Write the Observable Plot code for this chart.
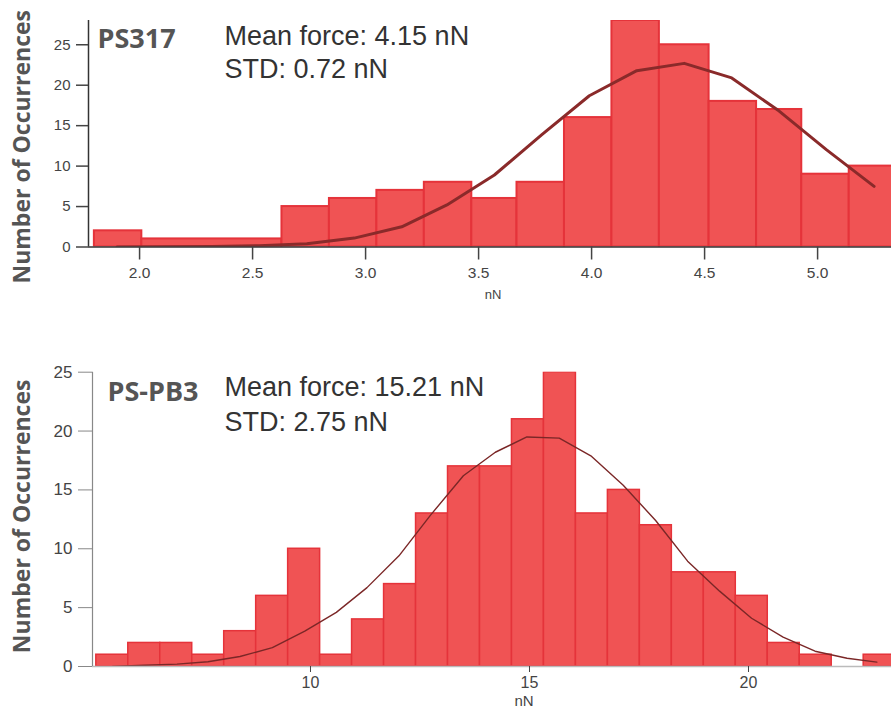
<!DOCTYPE html>
<html><head><meta charset="utf-8">
<script src="https://cdn.jsdelivr.net/npm/d3@7"></script>
<script src="https://cdn.jsdelivr.net/npm/@observablehq/plot@0.6"></script>
<style>
html,body{margin:0;padding:0;background:#fff;}
#wrap{position:relative;width:891px;height:711px;overflow:hidden;font-family:"Liberation Sans",Arial,sans-serif;}
#topPanel{position:absolute;left:0;top:0;}
#botPanel{position:absolute;left:0;top:355px;}
</style></head><body>
<div id="wrap"><div id="topPanel"></div><div id="botPanel"></div></div>
<script>
// ---------- PS317 (top panel) ----------
const ps317BinStart = [1.80, 2.01, 2.63, 2.84, 3.05, 3.26, 3.47, 3.67, 3.88, 4.09, 4.30, 4.52, 4.73, 4.93, 5.14];
const ps317BinEnd   = [2.01, 2.63, 2.84, 3.05, 3.26, 3.47, 3.67, 3.88, 4.09, 4.30, 4.52, 4.73, 4.93, 5.14, 5.35];
const ps317Counts   = [2, 1, 5, 6, 7, 8, 6, 8, 16, 28, 25, 18, 17, 9, 10];
const ps317FitX = [1.90, 2.11, 2.32, 2.53, 2.74, 2.95, 3.16, 3.36, 3.57, 3.78, 3.99, 4.20, 4.41, 4.62, 4.83, 5.04, 5.25];
const ps317FitY = [0, 0.02, 0.06, 0.17, 0.4, 1.1, 2.5, 5.2, 8.9, 13.9, 18.7, 21.8, 22.7, 20.9, 16.8, 12.0, 7.5];
const ps317XTicks = [2.0, 2.5, 3.0, 3.5, 4.0, 4.5, 5.0];
const ps317YTicks = [0, 5, 10, 15, 20, 25];
const ps317Labels = ["PS317", "Mean force: 4.15 nN", "STD: 0.72 nN"];

// ---------- PS-PB3 (bottom panel) ----------
const pb3BinEdges = [5.11, 5.84, 6.57, 7.30, 8.03, 8.76, 9.49, 10.22, 10.95, 11.68, 12.41, 13.14, 13.87,
                     14.60, 15.33, 16.06, 16.79, 17.52, 18.25, 18.98, 19.71, 20.44, 21.17, 21.90, 22.63, 23.36];
const pb3Counts = [1, 2, 2, 1, 3, 6, 10, 1, 4, 7, 13, 17, 17, 21, 25, 13, 15, 12, 8, 8, 6, 2, 1, 0, 1];
const pb3FitX = [5.48, 6.21, 6.95, 7.66, 8.39, 9.13, 9.87, 10.59, 11.29, 12.02, 12.75, 13.49, 14.22,
                 14.94, 15.68, 16.40, 17.14, 17.88, 18.61, 19.34, 20.07, 20.79, 21.52, 22.25, 22.93];
const pb3FitY = [0, 0.1, 0.2, 0.4, 0.85, 1.6, 3.0, 4.6, 6.7, 9.4, 12.9, 16.2, 18.2,
                 19.5, 19.4, 17.9, 15.4, 12.4, 8.95, 6.4, 4.1, 2.5, 1.3, 0.7, 0.37];
const pb3XTicks = [10, 15, 20];
const pb3YTicks = [0, 5, 10, 15, 20, 25];
const pb3Labels = ["PS-PB3", "Mean force: 15.21 nN", "STD: 2.75 nN"];

const axisTitleY = "Number of Occurrences";
const axisTitleX = "nN";

const barFill = "#f05354", barStroke = "#e5333a";

// table builders
const ps317Bins = ps317Counts.map((c, i) => ({x1: ps317BinStart[i], x2: ps317BinEnd[i], n: c}));
const ps317Fit = ps317FitX.map((x, i) => ({x, y: ps317FitY[i]}));
const pb3Bins = pb3Counts.map((c, i) => ({x1: pb3BinEdges[i], x2: pb3BinEdges[i + 1], n: c}));
const pb3Fit = pb3FitX.map((x, i) => ({x, y: pb3FitY[i]}));

const sansFam = '"Liberation Sans", Arial, sans-serif';
const boldFam = '"Open Sans", sans-serif';

// ---------- top ----------
const xTopDomain = [1.774, 5.327];
const topChart = Plot.plot({
  width: 891, height: 310,
  marginLeft: 88, marginRight: 0, marginTop: 20, marginBottom: 63.5,
  style: {fontFamily: sansFam, color: "#444", background: "#fff", overflow: "hidden"},
  x: {domain: xTopDomain},
  y: {domain: [0, 28]},
  marks: [
    Plot.rect(ps317Bins, {x1: "x1", x2: "x2", y1: () => 0, y2: "n", fill: barFill, stroke: barStroke, strokeWidth: 2, clip: true}),
    Plot.line(ps317Fit, {x: "x", y: "y", stroke: "#8a2a2a", strokeWidth: 3, clip: true}),
    Plot.ruleY([0], {stroke: "#333", strokeWidth: 1.5}),
    Plot.ruleX([xTopDomain[0]], {y1: 0, y2: 28, stroke: "#333", strokeWidth: 1.5}),
    Plot.axisY({ticks: ps317YTicks, tickSize: 12, tickPadding: 6, fontSize: 15, label: null, color: "#444", strokeWidth: 1.5}),
    Plot.axisX({ticks: ps317XTicks, tickFormat: d3.format(".1f"), tickSize: 13, tickPadding: 7, fontSize: 15.5, label: null, color: "#444", strokeWidth: 1.5}),
    Plot.text([axisTitleX], {text: d => d, frameAnchor: "bottom", dx: 3, dy: 52, fontSize: 13, fill: "#444"}),
    Plot.text([axisTitleY], {text: d => d, frameAnchor: "left", textAnchor: "middle", rotate: -90, dx: -65.5, dy: 13, fontSize: 23, fontWeight: "bold", fontFamily: boldFam, fill: "#555"}),
    Plot.text([ps317Labels[0]], {text: d => d, frameAnchor: "top-left", textAnchor: "start", lineAnchor: "bottom", dx: 9, dy: 27, fontSize: 27, fontWeight: "bold", fontFamily: boldFam, fill: "#555"}),
    Plot.text([ps317Labels[1]], {text: d => d, frameAnchor: "top-left", textAnchor: "start", lineAnchor: "bottom", dx: 136, dy: 24, fontSize: 27, fill: "#333"}),
    Plot.text([ps317Labels[2]], {text: d => d, frameAnchor: "top-left", textAnchor: "start", lineAnchor: "bottom", dx: 136, dy: 57, fontSize: 27, fill: "#333"})
  ]
});
document.getElementById("topPanel").appendChild(topChart);

// ---------- bottom ----------
const xBotDomain = [5.023, 23.265];
const botChart = Plot.plot({
  width: 891, height: 356,
  marginLeft: 92, marginRight: 0, marginTop: 16.7, marginBottom: 45,
  style: {fontFamily: sansFam, color: "#444", background: "#fff", overflow: "hidden"},
  x: {domain: xBotDomain},
  y: {domain: [0, 25]},
  marks: [
    Plot.rect(pb3Bins, {x1: "x1", x2: "x2", y1: () => 0, y2: "n", fill: barFill, stroke: barStroke, strokeWidth: 1.5, clip: true}),
    Plot.line(pb3Fit, {x: "x", y: "y", stroke: "#7b2727", strokeWidth: 1.4, clip: true}),
    Plot.ruleY([0], {stroke: "#bbb", strokeWidth: 1.5}),
    Plot.ruleX([xBotDomain[0]], {y1: 0, y2: 25, stroke: "#888", strokeWidth: 1.2}),
    Plot.axisY({ticks: pb3YTicks, tickSize: 14, tickPadding: 6, fontSize: 17, label: null, color: "#444", stroke: "#888"}),
    Plot.axisX({ticks: pb3XTicks, tickSize: 6, tickPadding: 4, fontSize: 16, label: null, color: "#444"}),
    Plot.text([axisTitleX], {text: d => d, frameAnchor: "bottom", dx: 32, dy: 39, fontSize: 15, fill: "#444"}),
    Plot.text([axisTitleY], {text: d => d, frameAnchor: "left", textAnchor: "middle", rotate: -90, dx: -69.5, dy: -3, fontSize: 23, fontWeight: "bold", fontFamily: boldFam, fill: "#555"}),
    Plot.text([pb3Labels[0]], {text: d => d, frameAnchor: "top-left", textAnchor: "start", lineAnchor: "bottom", dx: 15, dy: 28.3, fontSize: 27, fontWeight: "bold", fontFamily: boldFam, fill: "#555"}),
    Plot.text([pb3Labels[1]], {text: d => d, frameAnchor: "top-left", textAnchor: "start", lineAnchor: "bottom", dx: 132, dy: 23.3, fontSize: 27, fill: "#333"}),
    Plot.text([pb3Labels[2]], {text: d => d, frameAnchor: "top-left", textAnchor: "start", lineAnchor: "bottom", dx: 132, dy: 58.3, fontSize: 27, fill: "#333"})
  ]
});
document.getElementById("botPanel").appendChild(botChart);
</script>
</body></html>
